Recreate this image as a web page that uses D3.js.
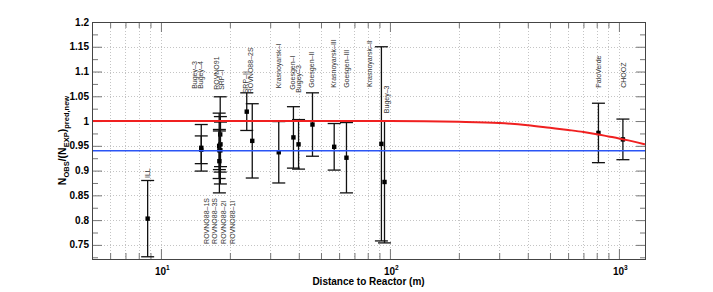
<!DOCTYPE html>
<html>
<head>
<meta charset="utf-8">
<script src="https://cdn.jsdelivr.net/npm/d3@7"></script>
<style>
  html, body { margin: 0; padding: 0; background: #fff; }
  svg text { font-family: "Liberation Sans", Arial, Helvetica, sans-serif; }
  .tick text { display: none; }
  .tick line { stroke: #777; }
</style>
</head>
<body>
<svg id="chart" width="713" height="292"></svg>
<script>
// experiments, distance (m), observed/predicted ratio and total error
var expNames = ["ILL", "Bugey-4", "Bugey-3", "ROVNO91", "SRP-I", "ROVNO88-1S", "ROVNO88-3S",
  "ROVNO88-2I", "ROVNO88-1I", "SRP-II", "ROVNO88-2S", "Krasnoyarsk-I", "Goesgen-I", "Bugey-3",
  "Goesgen-II", "Krasnoyarsk-III", "Goesgen-III", "Krasnoyarsk-II", "Bugey-3", "PaloVerde", "CHOOZ"];
var distances = [8.75, 15, 15, 18, 18.2, 18.15, 18.18, 17.96, 18, 23.7, 25.05, 32.7, 37.9, 39.9,
  45.9, 57.1, 64.6, 91.8, 94.7, 814, 1041];
var ratios = [0.803, 0.942, 0.946, 0.941, 0.953, 0.973, 0.941, 0.950, 0.919, 1.019, 0.960, 0.937,
  0.967, 0.953, 0.993, 0.948, 0.926, 0.954, 0.877, 0.976, 0.963];
var errors = [0.077, 0.028, 0.047, 0.039, 0.045, 0.076, 0.068, 0.066, 0.064, 0.038, 0.075, 0.062,
  0.062, 0.050, 0.064, 0.047, 0.071, 0.196, 0.123, 0.060, 0.041];

// labels written next to the points: text, distance, ratio where the text starts
var labelTexts = ["ILL", "Bugey–3", "Bugey–4", "ROVNO91", "SRP–I", "ROVNO88–1S", "ROVNO88–3S",
  "ROVNO88–2I", "ROVNO88–1I", "SRP–II", "ROVNO88–2S", "Krasnoyarsk–I", "Goesgen–I", "Bugey–3",
  "Goesgen–II", "Krasnoyarsk–III", "Goesgen–III", "Krasnoyarsk–II", "Bugey–3", "PaloVerde", "CHOOZ"];
var labelDist = [8.74, 13.98, 14.9, 17.5, 18.45, 15.77, 17.09, 18.71, 20.48, 23.5, 24.7, 32.5,
  37.6, 39.7, 45.6, 56.5, 64.9, 81.8, 96.7, 814, 1045];
var labelRatio = [0.885, 1.065, 1.065, 1.063, 1.063, 0.752, 0.752, 0.752, 0.752, 1.056, 1.056,
  1.066, 1.063, 1.057, 1.067, 1.067, 1.067, 1.069, 1.016, 1.067, 1.067];

// red curve (prediction with theta13) and blue line (mean)
var curveDist = [5, 100, 200, 300, 400, 500, 600, 700, 800, 900, 1000, 1100, 1200, 1300];
var curveRatio = [1.0, 1.0, 0.9985, 0.996, 0.9915, 0.9863, 0.982, 0.978, 0.9735, 0.969, 0.965,
  0.961, 0.957, 0.953];
var meanRatio = 0.94;

// axis ticks
var xMajor = [10, 100, 1000];
var xExponents = ["1", "2", "3"];
var yMajor = [0.75, 0.8, 0.85, 0.9, 0.95, 1, 1.05, 1.1, 1.15, 1.2];
var yLabels = ["0.75", "0.8", "0.85", "0.9", "0.95", "1", "1.05", "1.1", "1.15", "1.2"];
var yMinor = [0.725, 0.775, 0.825, 0.875, 0.925, 0.975, 1.025, 1.075, 1.125, 1.175];

var pLeft = 92, pRight = 645, pTop = 22, pBottom = 259;

var x = d3.scaleLog().domain([5, 1300]).range([pLeft, pRight]);
var y = d3.scaleLinear().domain([0.7215, 1.2]).range([pBottom, pTop]);

var svg = d3.select("#chart");

var xMinor = x.ticks().filter(function (d) { return xMajor.indexOf(d) < 0; });

// grid
var grid = svg.append("g").attr("class", "grid")
  .attr("stroke", "#c4c4c4").attr("stroke-width", 1).attr("stroke-dasharray", "1,2");
grid.selectAll("line.gx")
  .data(x.ticks())
  .enter().append("line")
  .attr("class", "gx")
  .attr("x1", function (d) { return Math.round(x(d)) + 0.5; })
  .attr("x2", function (d) { return Math.round(x(d)) + 0.5; })
  .attr("y1", pTop).attr("y2", pBottom);
grid.selectAll("line.gy")
  .data(yMajor.slice(0, -1))
  .enter().append("line")
  .attr("class", "gy")
  .attr("x1", pLeft).attr("x2", pRight)
  .attr("y1", function (d) { return Math.round(y(d)) + 0.5; })
  .attr("y2", function (d) { return Math.round(y(d)) + 0.5; });

// ticks on all four sides, pointing inwards
function addAxis(gen, tx, ty) {
  var g = svg.append("g").attr("transform", "translate(" + tx + "," + ty + ")").call(gen);
  g.select(".domain").remove();
  return g;
}
addAxis(d3.axisBottom(x).tickValues(xMajor).tickSize(-10).tickFormat(""), 0, pBottom);
addAxis(d3.axisBottom(x).tickValues(xMinor).tickSize(-6).tickFormat(""), 0, pBottom);
addAxis(d3.axisTop(x).tickValues(xMajor).tickSize(-10).tickFormat(""), 0, pTop);
addAxis(d3.axisTop(x).tickValues(xMinor).tickSize(-6).tickFormat(""), 0, pTop);
addAxis(d3.axisLeft(y).tickValues(yMajor).tickSize(-10).tickFormat(""), pLeft, 0);
addAxis(d3.axisLeft(y).tickValues(yMinor).tickSize(-6).tickFormat(""), pLeft, 0);
addAxis(d3.axisRight(y).tickValues(yMajor).tickSize(-9).tickFormat(""), pRight, 0);
addAxis(d3.axisRight(y).tickValues(yMinor).tickSize(-5).tickFormat(""), pRight, 0);

// error bars and points
var pts = svg.append("g").attr("class", "points")
  .selectAll("g")
  .data(distances.map(function (d, i) { return { d: d, r: ratios[i], e: errors[i] }; }))
  .enter().append("g")
  .attr("stroke", "#111").attr("stroke-width", 1.3);

pts.append("line")
  .attr("x1", function (p) { return x(p.d); })
  .attr("x2", function (p) { return x(p.d); })
  .attr("y1", function (p) { return y(p.r + p.e); })
  .attr("y2", function (p) { return y(p.r - p.e); });
pts.append("line")
  .attr("x1", function (p) { return x(p.d) - 6.5; })
  .attr("x2", function (p) { return x(p.d) + 6.5; })
  .attr("y1", function (p) { return y(p.r + p.e); })
  .attr("y2", function (p) { return y(p.r + p.e); });
pts.append("line")
  .attr("x1", function (p) { return x(p.d) - 6.5; })
  .attr("x2", function (p) { return x(p.d) + 6.5; })
  .attr("y1", function (p) { return y(p.r - p.e); })
  .attr("y2", function (p) { return y(p.r - p.e); });
pts.append("rect")
  .attr("stroke", "none").attr("fill", "#000")
  .attr("x", function (p) { return x(p.d) - 2.2; })
  .attr("y", function (p) { return y(p.r) - 2.2; })
  .attr("width", 4.4).attr("height", 4.4);

// red prediction curve and blue mean
var line = d3.line()
  .x(function (d, i) { return x(curveDist[i]); })
  .y(function (d) { return y(d); })
  .curve(d3.curveMonotoneX);
svg.append("path")
  .attr("d", line(curveRatio))
  .attr("fill", "none").attr("stroke", "#f02020").attr("stroke-width", 2);
svg.append("line")
  .attr("x1", pLeft).attr("x2", pRight)
  .attr("y1", y(meanRatio)).attr("y2", y(meanRatio))
  .attr("stroke", "#2a55f5").attr("stroke-width", 1.6);

// experiment labels
svg.append("g").selectAll("text")
  .data(labelTexts)
  .enter().append("text")
  .attr("transform", function (t, i) {
    return "translate(" + x(labelDist[i]) + "," + y(labelRatio[i]) + ") rotate(-90)";
  })
  .attr("dy", "0.35em")
  .attr("font-size", 7)
  .attr("fill", "#333")
  .text(function (t) { return t; });

// frame
svg.append("rect")
  .attr("x", pLeft + 0.5).attr("y", pTop + 0.5)
  .attr("width", pRight - pLeft).attr("height", pBottom - pTop)
  .attr("fill", "none").attr("stroke", "#444");

// tick labels
svg.append("g").selectAll("text")
  .data(yMajor)
  .enter().append("text")
  .attr("x", pLeft - 3)
  .attr("y", function (d) { return y(d); })
  .attr("dy", "0.36em")
  .attr("text-anchor", "end")
  .attr("font-size", 10).attr("font-weight", "bold")
  .text(function (d, i) { return yLabels[i]; });

var xl = svg.append("g").selectAll("text")
  .data(xMajor)
  .enter().append("text")
  .attr("x", function (d) { return x(d) - 6; })
  .attr("y", 275)
  .attr("font-size", 10).attr("font-weight", "bold");
xl.append("tspan").text("10");
xl.append("tspan").attr("font-size", 6.5).attr("dy", -5)
  .text(function (d, i) { return xExponents[i]; });

// axis titles
svg.append("text")
  .attr("x", (pLeft + pRight) / 2).attr("y", 285)
  .attr("text-anchor", "middle")
  .attr("font-size", 10).attr("font-weight", "bold")
  .text("Distance to Reactor (m)");

var yt = svg.append("text")
  .attr("transform", "translate(66," + ((pTop + pBottom) / 2) + ") rotate(-90)")
  .attr("text-anchor", "middle")
  .attr("font-size", 10.5).attr("font-weight", "bold");
yt.append("tspan").text("N");
yt.append("tspan").attr("font-size", 7.5).attr("dy", 3).text("OBS");
yt.append("tspan").attr("dy", -3).text("/(N");
yt.append("tspan").attr("font-size", 7.5).attr("dy", 3).text("EXP");
yt.append("tspan").attr("dy", -3).text(")");
yt.append("tspan").attr("font-size", 7.5).attr("dy", 3).text("pred,new");
</script>
</body>
</html>
